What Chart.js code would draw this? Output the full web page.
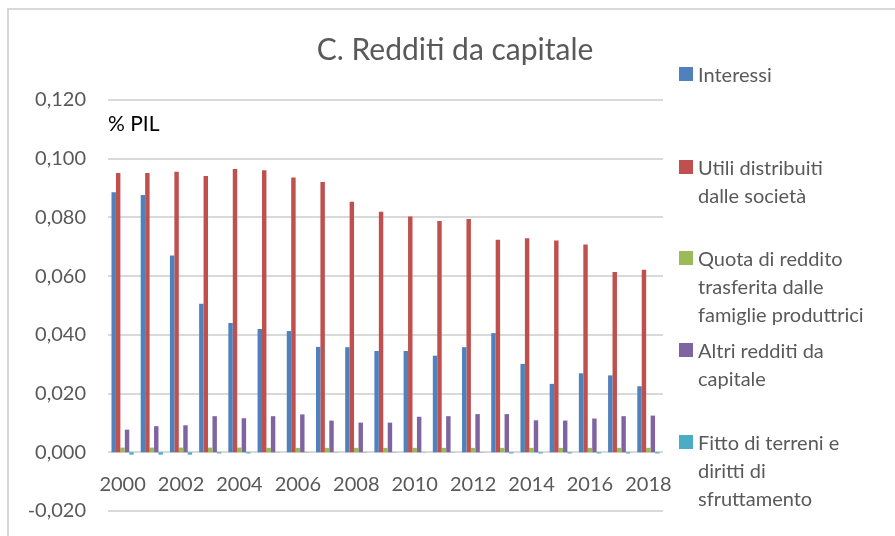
<!DOCTYPE html>
<html>
<head>
<meta charset="utf-8">
<script src="https://cdn.jsdelivr.net/npm/chart.js@4"></script>
<style>
  body { margin: 0; background: #fff; font-family: Lato, sans-serif; }
  #wrap { position: relative; width: 895px; height: 536px; overflow: hidden; }
  #chart { position: absolute; left: 0; top: 0; }
  #frame { position: absolute; left: 7px; top: 8px; right: 0; bottom: 0;
           border-left: 2px solid #d9d9d9; border-top: 2px solid #d9d9d9; }
  #title { position: absolute; left: 255px; width: 400px; top: 30px; text-align: center;
           font-size: 30px; line-height: 36px; color: #595959; }
  #unit { position: absolute; left: 108px; top: 110px; font-size: 21px; color: #000; }
  .leg { position: absolute; left: 679px; font-size: 20px; line-height: 28px; color: #595959; }
  .leg span.box { position: absolute; left: 0; top: 7px; width: 14px; height: 14px; }
  .leg div { margin-left: 19px; white-space: nowrap; }
</style>
</head>
<body>
<div id="wrap">
  <div id="frame"></div>
  <canvas id="chart" width="895" height="545"></canvas>
  <div id="title">C. Redditi da capitale</div>
  <div id="unit">% PIL</div>
  <div id="legend"></div>
</div>
<script>
const years = ['2000','2001','2002','2003','2004','2005','2006','2007','2008','2009',
               '2010','2011','2012','2013','2014','2015','2016','2017','2018'];

const interessi = [0.0886,0.0876,0.0670,0.0506,0.0440,0.0420,0.0413,0.0359,0.0358,0.0345,
                   0.0345,0.0329,0.0358,0.0406,0.0301,0.0233,0.0269,0.0262,0.0225];
const utili = [0.0951,0.0951,0.0956,0.0941,0.0965,0.0961,0.0936,0.0921,0.0853,0.0819,
               0.0803,0.0788,0.0795,0.0724,0.0729,0.0721,0.0708,0.0614,0.0622];
const quota = [0.0016,0.0016,0.0016,0.0016,0.0016,0.0015,0.0015,0.0015,0.0015,0.0015,
               0.0015,0.0015,0.0015,0.0015,0.0015,0.0015,0.0015,0.0015,0.0015];
const altri = [0.0077,0.0089,0.0092,0.0123,0.0116,0.0123,0.0129,0.0108,0.0101,0.0101,
               0.0121,0.0123,0.0130,0.0130,0.0109,0.0108,0.0115,0.0123,0.0125];
const fitto = [-0.0008,-0.0008,-0.0008,-0.0004,-0.0004,-0.0001,-0.0001,-0.0001,-0.0001,-0.0001,
               -0.0001,-0.0001,-0.0001,-0.0004,-0.0004,-0.0004,-0.0004,-0.0004,-0.0004];

const seriesNames = [
  ['Interessi'],
  ['Utili distribuiti', 'dalle società'],
  ['Quota di reddito', 'trasferita dalle', 'famiglie produttrici'],
  ['Altri redditi da', 'capitale'],
  ['Fitto di terreni e', 'diritti di', 'sfruttamento']
];
const colors = ['#4F81BD', '#C0504D', '#9BBB59', '#8064A2', '#4BACC6'];
const legendTops = [60, 153, 244, 336, 428];

// legend in html, multi-line labels like the original
const legend = document.getElementById('legend');
seriesNames.forEach((lines, i) => {
  const el = document.createElement('div');
  el.className = 'leg';
  el.style.top = legendTops[i] + 'px';
  el.innerHTML = `<span class="box" style="background:${colors[i]}"></span>` +
    lines.map(l => `<div>${l}</div>`).join('');
  legend.appendChild(el);
});

const allSeries = [interessi, utili, quota, altri, fitto];

const data = {
  labels: years,
  datasets: allSeries.map((vals, i) => ({
    label: seriesNames[i].join(' '),
    data: vals,
    backgroundColor: colors[i],
    borderWidth: 0,
    categoryPercentage: 0.76,
    barPercentage: 1.0
  }))
};

const fmt = v => (Math.abs(v) < 1e-9 ? 0 : v).toFixed(3).replace('.', ',');

const config = {
  type: 'bar',
  data: data,
  options: {
    responsive: false,
    animation: false,
    layout: { padding: { left: 0, right: 232, bottom: 25, top: 100 } },
    plugins: {
      legend: { display: false },
      tooltip: { enabled: false },
      title: { display: false }
    },
    scales: {
      x: {
        position: { y: 0 },
        grid: { display: false },
        border: { display: false },
        ticks: {
          autoSkip: false,
          maxRotation: 0,
          padding: 12,
          color: '#595959',
          font: { family: 'Lato', size: 20 },
          callback: (v, i) => (i % 2 === 0 ? years[i] : '')
        }
      },
      y: {
        min: -0.02,
        max: 0.12,
        afterFit: s => { s.width = 108; },
        grid: { color: '#d9d9d9', lineWidth: 2, drawTicks: false },
        border: { display: false },
        ticks: {
          stepSize: 0.02,
          padding: 22,
          color: '#595959',
          font: { family: 'Lato', size: 20 },
          callback: v => fmt(v)
        }
      }
    }
  }
};

const ctx = document.getElementById('chart').getContext('2d');
new Chart(ctx, config);
</script>
</body>
</html>
